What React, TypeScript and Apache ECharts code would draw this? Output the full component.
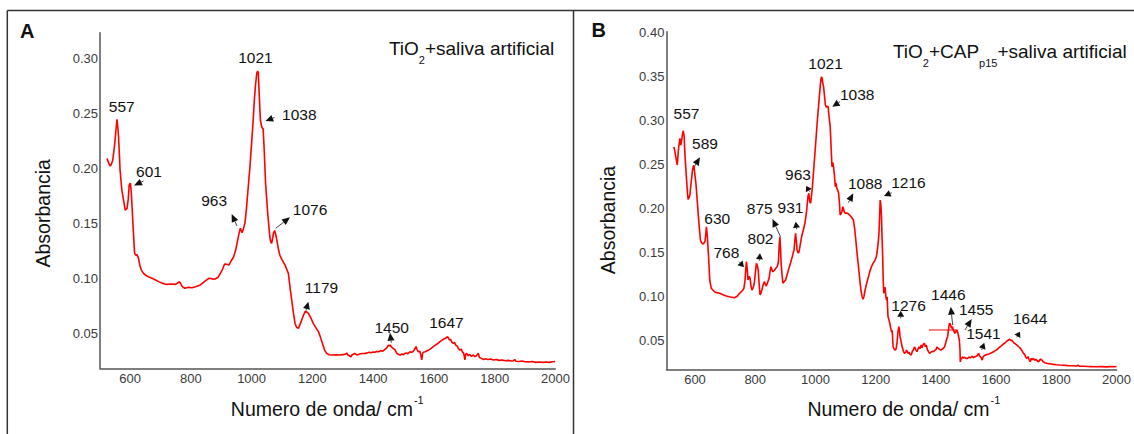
import React, { useEffect, useRef } from 'react';
import * as echarts from 'echarts';

const FONT = "'Liberation Sans', Arial, Helvetica, sans-serif";

// Panel A: TiO2 + saliva artificial  [wavenumber cm-1, absorbance]
const spectrumA: [number, number][] = [
  [524, 0.209], [530, 0.2045], [535, 0.202], [540, 0.205], [543, 0.2075], [549, 0.221], [553, 0.233],
  [557, 0.2445], [560, 0.236], [562, 0.2287], [565, 0.212], [567, 0.1985], [573, 0.18], [578, 0.172],
  [584, 0.162], [590, 0.1636], [594, 0.172], [597, 0.1848], [601, 0.1865], [604, 0.178], [606, 0.168],
  [610, 0.147], [613, 0.132], [615, 0.1227], [619, 0.121], [623, 0.1215], [626, 0.1195], [628, 0.118],
  [632, 0.112], [637, 0.1075], [643, 0.105], [650, 0.103], [660, 0.1015], [672, 0.1], [684, 0.0985],
  [694, 0.097], [705, 0.0958], [714, 0.0948], [721, 0.0945], [735, 0.0948], [749, 0.0945], [755, 0.0955],
  [762, 0.097], [766, 0.0955], [772, 0.0925], [780, 0.091], [792, 0.0918], [804, 0.0915], [818, 0.0925],
  [831, 0.094], [845, 0.097], [859, 0.1], [866, 0.0998], [872, 0.0993], [880, 0.0994], [890, 0.101],
  [897, 0.1045], [904, 0.108], [911, 0.113], [918, 0.1128], [925, 0.112], [932, 0.1155], [941, 0.1196],
  [947, 0.125], [952, 0.1318], [958, 0.14], [963, 0.1455], [966, 0.1435], [969, 0.1415], [973, 0.145],
  [978, 0.15], [983, 0.163], [989, 0.1833], [995, 0.203], [1000, 0.2227], [1005, 0.243], [1009, 0.262],
  [1013, 0.276], [1017, 0.2864], [1020, 0.2885], [1022, 0.287], [1024, 0.274], [1027, 0.255], [1029, 0.244],
  [1033, 0.2378], [1036, 0.2364], [1038, 0.236], [1041, 0.2196], [1046, 0.1864], [1050, 0.171], [1053, 0.159],
  [1057, 0.147], [1060, 0.1378], [1063, 0.133], [1066, 0.1318], [1069, 0.136], [1072, 0.141], [1076, 0.1435],
  [1080, 0.139], [1083, 0.1348], [1088, 0.127], [1093, 0.121], [1100, 0.117], [1110, 0.112], [1116, 0.108],
  [1121, 0.1045], [1126, 0.093], [1132, 0.0803], [1138, 0.068], [1143, 0.059], [1148, 0.0555], [1154, 0.0545],
  [1158, 0.057], [1163, 0.0606], [1170, 0.066], [1176, 0.0697], [1181, 0.0695], [1187, 0.0682], [1195, 0.064],
  [1203, 0.059], [1212, 0.055], [1220, 0.0515], [1226, 0.047], [1233, 0.0409], [1240, 0.035], [1247, 0.0318],
  [1255, 0.0305], [1264, 0.0303], [1278, 0.0305], [1291, 0.0303], [1302, 0.0306], [1310, 0.0312], [1313, 0.0322],
  [1316, 0.0305], [1322, 0.0296], [1327, 0.0287], [1331, 0.0305], [1335, 0.031], [1340, 0.0318], [1346, 0.0303],
  [1356, 0.0312], [1364, 0.0316], [1373, 0.0318], [1379, 0.032], [1386, 0.0328], [1393, 0.0324], [1400, 0.033],
  [1406, 0.0328], [1412, 0.0336], [1418, 0.0332], [1425, 0.0342], [1432, 0.0338], [1439, 0.0355], [1445, 0.0368],
  [1450, 0.0392], [1453, 0.0385], [1456, 0.0394], [1460, 0.0376], [1466, 0.0364], [1472, 0.035], [1478, 0.0318],
  [1484, 0.0308], [1489, 0.0303], [1495, 0.0312], [1500, 0.0306], [1505, 0.0318], [1510, 0.0322], [1515, 0.0314],
  [1521, 0.0333], [1527, 0.0326], [1533, 0.0338], [1538, 0.0362], [1541, 0.0379], [1545, 0.035], [1549, 0.0333],
  [1554, 0.0336], [1557, 0.03], [1560, 0.0258], [1563, 0.032], [1567, 0.033], [1571, 0.0333], [1578, 0.0342],
  [1585, 0.0352], [1592, 0.0366], [1598, 0.0379], [1605, 0.0392], [1612, 0.0405], [1620, 0.0424], [1626, 0.0436],
  [1632, 0.0448], [1638, 0.0455], [1642, 0.0462], [1645, 0.047], [1648, 0.0458], [1651, 0.0439], [1655, 0.0445],
  [1659, 0.042], [1664, 0.0409], [1668, 0.0418], [1672, 0.0392], [1677, 0.0384], [1681, 0.036], [1686, 0.0348],
  [1690, 0.0356], [1694, 0.033], [1698, 0.0322], [1702, 0.0258], [1705, 0.031], [1708, 0.0318], [1713, 0.0296],
  [1718, 0.0308], [1724, 0.029], [1730, 0.0303], [1735, 0.0288], [1740, 0.0296], [1746, 0.0318], [1750, 0.028],
  [1756, 0.0272], [1763, 0.0262], [1770, 0.0268], [1778, 0.0262], [1787, 0.0266], [1796, 0.0258], [1806, 0.0262],
  [1815, 0.0254], [1825, 0.0258], [1835, 0.025], [1845, 0.0254], [1855, 0.0248], [1862, 0.025], [1866, 0.0262],
  [1870, 0.0246], [1880, 0.0244], [1890, 0.0248], [1900, 0.0242], [1912, 0.024], [1924, 0.0244], [1935, 0.0236],
  [1946, 0.024], [1958, 0.0236], [1970, 0.024], [1980, 0.0236], [1990, 0.0242], [1999, 0.0244],
];

// Panel B: TiO2 + CAPp15 + saliva artificial
const spectrumB: [number, number][] = [
  [530, 0.27], [533, 0.265], [537, 0.257], [541, 0.2494], [544, 0.262], [546, 0.27], [550, 0.2797],
  [553, 0.2721], [556, 0.278], [558, 0.2835], [561, 0.2883], [564, 0.2815], [567, 0.2588], [570, 0.243],
  [572, 0.2324], [575, 0.218], [577, 0.2105], [580, 0.212], [583, 0.2154], [588, 0.2324], [591, 0.242],
  [594, 0.2475], [596, 0.249], [598, 0.2437], [603, 0.2286], [608, 0.206], [611, 0.192], [614, 0.1794],
  [618, 0.1643], [622, 0.161], [627, 0.1598], [633, 0.1624], [636, 0.172], [638, 0.1794], [641, 0.168],
  [645, 0.1453], [649, 0.1189], [654, 0.1095], [660, 0.1072], [665, 0.1056], [673, 0.1046], [682, 0.1038],
  [693, 0.1022], [704, 0.1008], [717, 0.0996], [731, 0.0988], [740, 0.1005], [748, 0.1038], [756, 0.1065],
  [762, 0.109], [766, 0.118], [769, 0.133], [771, 0.1397], [774, 0.129], [776, 0.1189], [780, 0.123],
  [783, 0.1208], [786, 0.112], [789, 0.1076], [793, 0.11], [797, 0.1152], [801, 0.129], [804, 0.1379],
  [807, 0.135], [810, 0.1303], [813, 0.115], [816, 0.1019], [819, 0.104], [822, 0.1076], [826, 0.113],
  [830, 0.117], [834, 0.114], [837, 0.1121], [842, 0.117], [846, 0.1208], [849, 0.128], [852, 0.134],
  [856, 0.13], [859, 0.1283], [864, 0.13], [868, 0.1322], [873, 0.134], [877, 0.1397], [880, 0.16],
  [882, 0.168], [884, 0.155], [886, 0.1379], [889, 0.125], [892, 0.1152], [896, 0.117], [901, 0.1189],
  [906, 0.125], [912, 0.1322], [918, 0.139], [923, 0.1453], [927, 0.151], [929, 0.153], [932, 0.165],
  [934, 0.1719], [937, 0.162], [939, 0.153], [942, 0.15], [945, 0.1499], [949, 0.158], [954, 0.168],
  [960, 0.176], [965, 0.1833], [970, 0.195], [975, 0.2134], [978, 0.2173], [981, 0.208], [984, 0.206],
  [987, 0.215], [990, 0.225], [995, 0.248], [1000, 0.2702], [1005, 0.294], [1011, 0.3194], [1015, 0.335],
  [1018, 0.346], [1020, 0.3496], [1022, 0.348], [1024, 0.343], [1027, 0.3383], [1030, 0.328], [1033, 0.3175],
  [1036, 0.315], [1039, 0.316], [1042, 0.3156], [1045, 0.305], [1049, 0.2929], [1052, 0.27], [1055, 0.2475],
  [1058, 0.252], [1060, 0.2475], [1063, 0.238], [1066, 0.2248], [1068, 0.229], [1071, 0.223], [1074, 0.221],
  [1077, 0.2173], [1080, 0.205], [1082, 0.1927], [1085, 0.194], [1088, 0.1964], [1091, 0.2021], [1093, 0.2],
  [1096, 0.196], [1099, 0.1946], [1104, 0.195], [1110, 0.1938], [1118, 0.191], [1126, 0.187], [1130, 0.178],
  [1134, 0.1643], [1138, 0.15], [1143, 0.134], [1147, 0.12], [1151, 0.1076], [1155, 0.1], [1158, 0.097],
  [1161, 0.1], [1165, 0.1076], [1170, 0.115], [1176, 0.1227], [1181, 0.129], [1186, 0.134], [1192, 0.138],
  [1198, 0.1416], [1202, 0.145], [1205, 0.151], [1208, 0.16], [1211, 0.1719], [1213, 0.19], [1215, 0.2097],
  [1217, 0.205], [1219, 0.1946], [1221, 0.17], [1223, 0.1492], [1225, 0.12], [1227, 0.1038], [1229, 0.109],
  [1231, 0.111], [1232, 0.1076], [1234, 0.1], [1236, 0.0962], [1238, 0.1], [1240, 0.085], [1241, 0.0773],
  [1244, 0.074], [1247, 0.0698], [1250, 0.0641], [1253, 0.06], [1255, 0.062], [1258, 0.0432], [1262, 0.04],
  [1265, 0.0395], [1268, 0.041], [1271, 0.048], [1274, 0.06], [1277, 0.066], [1279, 0.062], [1281, 0.0546],
  [1285, 0.048], [1288, 0.0432], [1292, 0.038], [1296, 0.0357], [1300, 0.037], [1303, 0.0395], [1307, 0.0357],
  [1311, 0.037], [1314, 0.0345], [1318, 0.0338], [1322, 0.038], [1326, 0.04], [1329, 0.0432], [1333, 0.04],
  [1337, 0.0376], [1340, 0.04], [1344, 0.043], [1347, 0.041], [1351, 0.0452], [1354, 0.042], [1358, 0.046],
  [1362, 0.0471], [1365, 0.043], [1368, 0.0452], [1372, 0.04], [1375, 0.038], [1379, 0.0357], [1384, 0.037],
  [1388, 0.038], [1392, 0.0376], [1396, 0.039], [1400, 0.04], [1404, 0.043], [1406, 0.0432], [1409, 0.041],
  [1413, 0.04], [1417, 0.0395], [1421, 0.0405], [1425, 0.0415], [1429, 0.0432], [1433, 0.048], [1436, 0.052],
  [1439, 0.0546], [1442, 0.063], [1445, 0.0698], [1448, 0.069], [1450, 0.066], [1452, 0.0641], [1455, 0.0659],
  [1458, 0.062], [1461, 0.0602], [1463, 0.0584], [1466, 0.06], [1468, 0.0615], [1470, 0.0621], [1473, 0.059],
  [1476, 0.054], [1478, 0.0508], [1480, 0.04], [1481, 0.026], [1483, 0.029], [1486, 0.03], [1488, 0.0319],
  [1492, 0.0305], [1496, 0.0312], [1500, 0.03], [1505, 0.03], [1510, 0.0315], [1515, 0.0308], [1520, 0.0322],
  [1525, 0.031], [1530, 0.0319], [1535, 0.0326], [1539, 0.034], [1542, 0.0357], [1545, 0.033], [1550, 0.031],
  [1554, 0.0281], [1557, 0.032], [1561, 0.033], [1565, 0.0338], [1570, 0.0345], [1576, 0.035], [1583, 0.036],
  [1590, 0.0372], [1596, 0.0385], [1603, 0.04], [1609, 0.0418], [1614, 0.0432], [1620, 0.045], [1626, 0.0466],
  [1632, 0.0482], [1636, 0.0497], [1640, 0.0505], [1644, 0.0516], [1647, 0.0512], [1650, 0.05], [1653, 0.0505],
  [1658, 0.0478], [1662, 0.047], [1666, 0.046], [1670, 0.0448], [1675, 0.0432], [1679, 0.042], [1683, 0.04],
  [1687, 0.038], [1691, 0.0357], [1695, 0.0345], [1699, 0.031], [1702, 0.03], [1706, 0.032], [1709, 0.029],
  [1713, 0.0262], [1717, 0.03], [1720, 0.0285], [1724, 0.03], [1728, 0.0278], [1732, 0.029], [1737, 0.027],
  [1741, 0.0262], [1745, 0.0282], [1748, 0.029], [1752, 0.0281], [1757, 0.026], [1762, 0.025], [1768, 0.0244],
  [1775, 0.024], [1783, 0.0236], [1790, 0.0232], [1800, 0.0228], [1812, 0.0225], [1825, 0.0222], [1840, 0.0218],
  [1855, 0.0216], [1867, 0.0213], [1872, 0.0222], [1876, 0.0212], [1890, 0.021], [1905, 0.0208], [1920, 0.0206],
  [1933, 0.0205], [1950, 0.0206], [1965, 0.0204], [1980, 0.0206], [1995, 0.0205], [2000, 0.0207],
];

const peakLabelsA = ['557', '601', '963', '1021', '1038', '1076', '1179', '1450', '1647'];
const peakLabelsB = ['557', '589', '630', '768', '802', '875', '931', '963', '1021', '1038', '1088', '1216', '1276', '1446', '1455', '1541', '1644'];
const titleA = [['TiO', false], ['2', true], ['+saliva artificial', false]] as [string, boolean][];
const titleB = [['TiO', false], ['2', true], ['+CAP', false], ['p15', true], ['+saliva artificial', false]] as [string, boolean][];
const xName = 'Numero de onda/ cm';
const xNameSup = '-1';
const yName = 'Absorbancia';

// layout (pixels)
const peakPosA = [[121.8, 106], [149, 171.7], [214.1, 200.7], [255.4, 57.3], [299.3, 114], [310.1, 209.3], [321.5, 287.8], [391.7, 327.5], [446.4, 322.7]];
const peakPosB = [[686.5, 113.3], [705, 143.7], [717.3, 218.3], [726.4, 252.5], [760.5, 238.8], [759.7, 208], [790.5, 207.5], [798, 174.2], [825.5, 63.7], [857.2, 94.3], [865.2, 183.3], [908.4, 182.3], [908.6, 305.5], [948.3, 294.7], [976.2, 309.5], [983.4, 333.3], [1030.2, 318.8]];
const arrowsA = [
  [[143.5, 181], [134, 185.5]], [[237, 226], [231.7, 214]], [[274.5, 117.5], [265.5, 121]],
  [[275.7, 228.3], [290, 217.3]], [[306, 310.7], [308.3, 301.7]], [[391.3, 342.7], [390, 332.7]],
];
const arrowsB = [
  [[694.3, 166.7], [700, 157.3]], [[739, 261.7], [744, 267.3]], [[759.3, 260.7], [760, 253.3]],
  [[780.5, 236.7], [772.5, 219]], [[796.7, 229.3], [795.7, 221.7]], [[809.5, 191.7], [806.2, 186]],
  [[840, 101.7], [832.3, 106.7]], [[848.3, 202.7], [853.3, 193.3]], [[891.7, 192.7], [884, 196]],
  [[900.7, 318.3], [900.7, 310.7]], [[952.7, 325], [950.7, 306.7]], [[965, 330], [971.7, 319]],
  [[981.7, 350], [984.3, 342.7]], [[1016.7, 337.3], [1020, 331.7]],
];

function measure(text: string, size: number) {
  const ctx = document.createElement('canvas').getContext('2d')!;
  ctx.font = `${size}px ${FONT}`;
  return ctx.measureText(text).width;
}

function arrow(tail: number[], head: number[]) {
  const dx = head[0] - tail[0];
  const dy = head[1] - tail[1];
  const len = Math.hypot(dx, dy);
  const ux = dx / len, uy = dy / len;
  const hl = Math.min(8, len * 0.8);
  const hw = 3.5;
  const bx = head[0] - ux * hl, by = head[1] - uy * hl;
  const px = -uy, py = ux;
  return [
    { type: 'line', silent: true, shape: { x1: tail[0], y1: tail[1], x2: bx, y2: by }, style: { stroke: '#444', lineWidth: 1 } },
    { type: 'polygon', silent: true, shape: { points: [[head[0], head[1]], [bx + px * hw, by + py * hw], [bx - px * hw, by - py * hw]] }, style: { fill: '#111' } },
  ];
}

function titleEls(parts: [string, boolean][], right: number, midY: number) {
  const big = 19, small = 11;
  const widths = parts.map(([t, sub]) => measure(t, sub ? small : big));
  let x = right - widths.reduce((a, b) => a + b, 0);
  const els: any[] = [];
  parts.forEach(([t, sub], i) => {
    els.push({
      type: 'text', x, y: sub ? midY + 11 : midY, silent: true,
      style: { text: t, fontSize: sub ? small : big, fontFamily: FONT, fill: '#111', align: 'left', verticalAlign: 'middle' },
    });
    x += widths[i];
  });
  return els;
}

function axisNameEls(left: number, midY: number, yCx: number, yCy: number) {
  const size = 19.5;
  const w = measure(xName, size);
  return [
    { type: 'text', x: left, y: midY, silent: true, style: { text: xName, fontSize: size, fontFamily: FONT, fill: '#111', align: 'left', verticalAlign: 'middle' } },
    { type: 'text', x: left + w + 1, y: midY - 9, silent: true, style: { text: xNameSup, fontSize: 11, fontFamily: FONT, fill: '#111', align: 'left', verticalAlign: 'middle' } },
    { type: 'text', x: yCx, y: yCy, rotation: Math.PI / 2, silent: true, style: { text: yName, fontSize: size, fontFamily: FONT, fill: '#111', align: 'center', verticalAlign: 'middle' } },
  ];
}

function peakEls(labels: string[], pos: number[][]) {
  return labels.map((t, i) => ({
    type: 'text', x: pos[i][0], y: pos[i][1], silent: true,
    style: { text: t, fontSize: 15.5, fontFamily: FONT, fill: '#111', align: 'center', verticalAlign: 'middle' },
  }));
}

const isMult = (v: number, step: number) => Math.abs(v / step - Math.round(v / step)) < 1e-6;

function xAxisCfg(grid: number, min: number) {
  return {
    type: 'value', gridIndex: grid, min, max: 2000, splitNumber: 7,
    axisLine: { show: true, onZero: false, lineStyle: { color: '#555', width: 1.5 } },
    axisTick: { show: false }, splitLine: { show: false },
    axisLabel: {
      margin: 4, fontSize: 13, color: '#3a3a3a', fontFamily: FONT, showMinLabel: false,
      formatter: (v: number) => (isMult(v, 200) ? String(Math.round(v)) : ''),
    },
  };
}

function yAxisCfg(grid: number, min: number, max: number, split: number) {
  return {
    type: 'value', gridIndex: grid, min, max, splitNumber: split,
    axisLine: { show: true, onZero: false, lineStyle: { color: '#555', width: 1.5 } },
    axisTick: { show: false }, splitLine: { show: false },
    axisLabel: {
      margin: 2, fontSize: 13, color: '#3a3a3a', fontFamily: FONT, showMinLabel: false, showMaxLabel: false,
      formatter: (v: number) => (isMult(v, 0.05) ? v.toFixed(2) : ''),
    },
  };
}

export default function App() {
  const ref = useRef<HTMLDivElement>(null);
  useEffect(() => {
    const chart = echarts.init(ref.current!, undefined, { renderer: 'svg' });
    const graphics: any[] = [
      { type: 'line', silent: true, shape: { x1: 7.3, y1: 10.5, x2: 1134, y2: 10.5 }, style: { stroke: '#333', lineWidth: 1.5 } },
      { type: 'line', silent: true, shape: { x1: 7.3, y1: 10.5, x2: 7.3, y2: 434 }, style: { stroke: '#333', lineWidth: 1.5 } },
      { type: 'line', silent: true, shape: { x1: 573.5, y1: 10.5, x2: 573.5, y2: 434 }, style: { stroke: '#333', lineWidth: 1.5 } },
      { type: 'text', x: 27.3, y: 30.7, silent: true, style: { text: 'A', fontSize: 20, fontWeight: 'bold', fontFamily: FONT, fill: '#111', align: 'center', verticalAlign: 'middle' } },
      { type: 'text', x: 598.6, y: 29.5, silent: true, style: { text: 'B', fontSize: 20, fontWeight: 'bold', fontFamily: FONT, fill: '#111', align: 'center', verticalAlign: 'middle' } },
      ...titleEls(titleA, 554.3, 48.5),
      ...titleEls(titleB, 1126.8, 51.8),
      ...axisNameEls(230.8, 409.2, 43.3, 213.3),
      ...axisNameEls(807.4, 409.2, 608, 220),
      ...peakEls(peakLabelsA, peakPosA),
      ...peakEls(peakLabelsB, peakPosB),
      ...arrowsA.flatMap(([t, h]) => arrow(t, h)),
      ...arrowsB.flatMap(([t, h]) => arrow(t, h)),
      { type: 'line', silent: true, shape: { x1: 929, y1: 330, x2: 957, y2: 330 }, style: { stroke: '#ff0000', lineWidth: 1 } },
    ];
    chart.setOption({
      animation: false,
      backgroundColor: '#ffffff',
      grid: [
        { left: 100, top: 32.7, width: 455.4, height: 335.6 },
        { left: 666.4, top: 31.7, width: 454, height: 337.6 },
      ],
      xAxis: [xAxisCfg(0, 501), xAxisCfg(1, 505)],
      yAxis: [yAxisCfg(0, 0.0182, 0.3233, 6), yAxisCfg(1, 0.0176, 0.4007, 8)],
      series: [
        { type: 'line', xAxisIndex: 0, yAxisIndex: 0, data: spectrumA, showSymbol: false, symbol: 'none', lineStyle: { color: '#ff0000', width: 1.6 }, silent: true },
        { type: 'line', xAxisIndex: 1, yAxisIndex: 1, data: spectrumB, showSymbol: false, symbol: 'none', lineStyle: { color: '#ff0000', width: 1.6 }, silent: true },
      ],
      graphic: { elements: graphics },
    });
    return () => chart.dispose();
  }, []);
  return <div ref={ref} style={{ position: 'absolute', left: 0, top: 0, width: 1134, height: 434, background: '#fff' }} />;
}
